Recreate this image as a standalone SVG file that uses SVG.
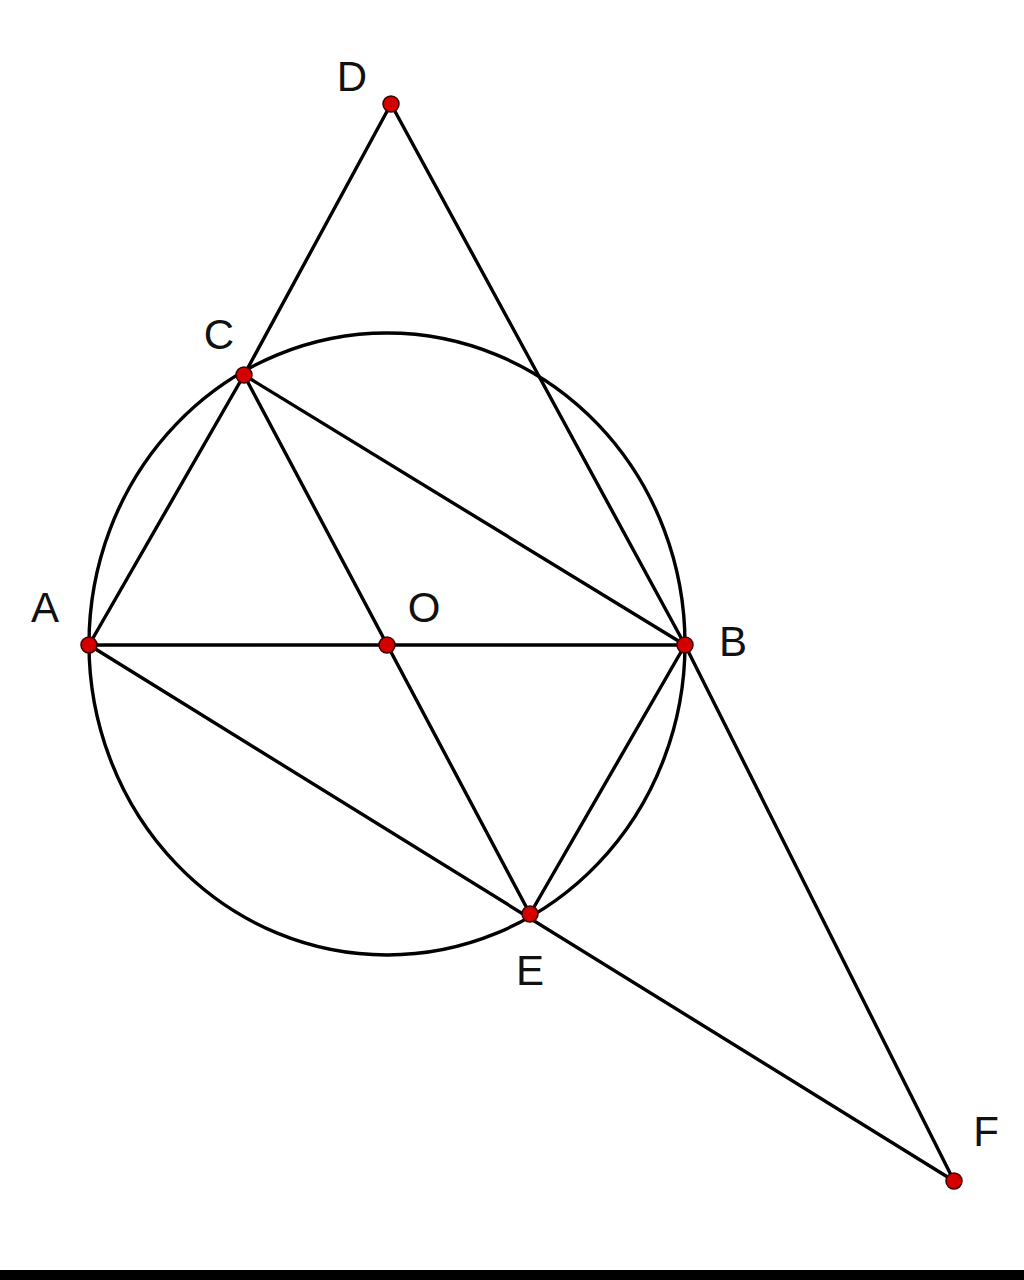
<svg xmlns="http://www.w3.org/2000/svg" width="1024" height="1280" viewBox="0 0 1024 1280">
<style>
.ln{stroke:#000;stroke-width:3.4;fill:none;stroke-linecap:round}
.pt{fill:#d40000;stroke:#3a0000;stroke-width:1.5}
.lb{font-family:"Liberation Sans",Arial,sans-serif;font-size:42px;fill:#111;text-anchor:middle}
</style>
<rect width="1024" height="1280" fill="#fff"/>
<g id="connectors">
<ellipse class="ln" cx="387" cy="644" rx="298" ry="311"/>
<line class="ln" x1="391" y1="104" x2="244" y2="375"/>
<line class="ln" x1="391" y1="104" x2="685" y2="645"/>
<line class="ln" x1="244" y1="375" x2="89" y2="645"/>
<line class="ln" x1="244" y1="375" x2="685" y2="645"/>
<line class="ln" x1="244" y1="375" x2="530" y2="914"/>
<line class="ln" x1="89" y1="645" x2="685" y2="645"/>
<line class="ln" x1="89" y1="645" x2="954" y2="1181"/>
<line class="ln" x1="685" y1="645" x2="530" y2="914"/>
<line class="ln" x1="685" y1="645" x2="954" y2="1181"/>
</g>
<g id="D"><circle class="pt" cx="391" cy="104" r="8"/><text class="lb" x="352" y="91">D</text></g>
<g id="C"><circle class="pt" cx="244" cy="375" r="8"/><text class="lb" x="219" y="349">C</text></g>
<g id="A"><circle class="pt" cx="89" cy="645" r="8"/><text class="lb" x="45" y="622">A</text></g>
<g id="O"><circle class="pt" cx="387" cy="645" r="8"/><text class="lb" x="424" y="622">O</text></g>
<g id="B"><circle class="pt" cx="685" cy="645" r="8"/><text class="lb" x="733" y="656">B</text></g>
<g id="E"><circle class="pt" cx="530" cy="914" r="8"/><text class="lb" x="530" y="985">E</text></g>
<g id="F"><circle class="pt" cx="954" cy="1181" r="8"/><text class="lb" x="986" y="1146">F</text></g>
<rect x="0" y="1270" width="1024" height="10" fill="#000"/>
</svg>
